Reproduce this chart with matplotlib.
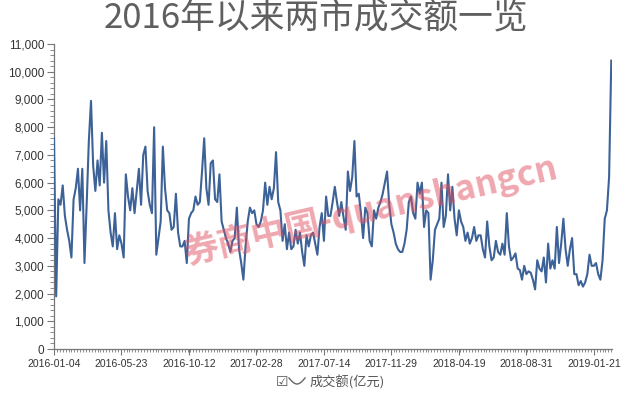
import matplotlib
matplotlib.use("Agg")
import matplotlib.pyplot as plt
import numpy as np
from matplotlib.ticker import FuncFormatter, MultipleLocator, FixedLocator
from matplotlib.lines import Line2D

turnover_2016 = [7600, 1900, 5400, 5200, 5900, 4800, 4300, 3900, 3300, 5400,
                 5800, 6500, 5000, 6500, 3100, 5200, 7500, 8950, 6600, 5700,
                 6800, 5900, 7800, 6000, 7500, 5000, 4200, 3700, 4900, 3600,
                 4100, 3800, 3300, 6300, 5500, 5000, 5800, 4900, 5700, 6500,
                 5200, 7000, 7300, 5700, 5200, 4900, 8000, 3400, 4000, 4600,
                 7300, 5800, 5000, 4900, 4300, 4400, 5600, 4200, 3700, 3700,
                 3900, 3100, 4700, 4900, 5000, 5500, 5200, 5300, 6400, 7600,
                 5800, 5200, 6700, 6800, 5400, 5300, 6300, 4600, 4300, 4000,
                 3800, 3500]
turnover_2017 = [3900, 4000, 5100, 3600, 3100, 2500, 3700, 4600, 5100, 4900,
                 5000, 4500, 4400, 4600, 5000, 6000, 5200, 5850, 5400, 5800,
                 7100, 5300, 5000, 3900, 4500, 3600, 4200, 3600, 3700, 4300,
                 3800, 4200, 3500, 3000, 4100, 3700, 4100, 4200, 3800, 3400,
                 4400, 4900, 3900, 5500, 4800, 4800, 5300, 5850, 5300, 4800,
                 5300, 4750, 4300, 6400, 5700, 6200, 7500, 5500, 5600, 4900,
                 4000, 5100, 4900, 3900, 3700, 5000, 4700, 5100, 5300, 5600,
                 6000, 6400, 5200, 4500, 4200, 3800, 3600, 3500, 3500, 3800,
                 4300]
turnover_2018 = [5300, 5500, 4900, 4700, 6000, 5600, 6000, 4400, 5000, 4900,
                 2500, 3200, 4300, 4500, 4700, 6000, 4400, 4800, 6300, 5000,
                 5850, 4700, 4100, 5000, 4600, 4400, 3900, 4200, 3800, 4000,
                 4400, 3900, 4100, 4100, 3600, 3300, 4600, 3700, 3200, 3300,
                 3900, 3500, 3400, 3800, 3400, 4900, 3700, 3200, 3300, 3450,
                 2900, 2850, 2500, 3000, 2700, 2800, 2750, 2500, 2150, 3200,
                 2900, 2800, 3300, 2400, 3800, 2900, 3200, 2900, 4400, 3100,
                 3800, 4700, 3600, 3000, 3600, 4000, 2700, 2700, 2300, 2450,
                 2250]
turnover_2019 = [2400, 2700, 3400, 3000, 3000, 3100, 2700, 2500, 3200, 4700,
                 5000, 6200, 10400]

turnover = turnover_2016 + turnover_2017 + turnover_2018 + turnover_2019
sample_step = 3  # trading days between samples
label_step = 93  # trading days between date labels
tick_labels = ["2016-01-04", "2016-05-23", "2016-10-12", "2017-02-28",
               "2017-07-14", "2017-11-29", "2018-04-19", "2018-08-31",
               "2019-01-21"]

title = "2016年以来两市成交额一览"
series_name = "成交额(亿元)"
watermark = "券商中国-quanshangcn"

cjk = ["Noto Sans CJK SC", "DejaVu Sans"]
plt.rcParams["font.family"] = ["Liberation Sans", "DejaVu Sans"]

x = np.arange(len(turnover)) * sample_step
y = np.array(turnover)

fig = plt.figure(figsize=(6.3, 3.95), dpi=100)
ax = fig.add_axes([54 / 630, 46 / 395, 558 / 630, 305 / 395])
ax.plot(x, y, color="#3d6298", lw=1.5, zorder=3)

ax.set_xlim(0, x[-1] + 1)
ax.set_ylim(0, 11000)
for s in ["top", "right"]:
    ax.spines[s].set_visible(False)
for s in ["left", "bottom"]:
    ax.spines[s].set_color("#777777")
    ax.spines[s].set_linewidth(0.9)

ax.yaxis.set_major_locator(MultipleLocator(1000))
ax.yaxis.set_minor_locator(MultipleLocator(200))
ax.yaxis.set_major_formatter(FuncFormatter(lambda v, p: f"{v:,.0f}"))
ax.xaxis.set_major_locator(FixedLocator(np.arange(len(tick_labels)) * label_step))
ax.set_xticklabels(tick_labels)
ax.xaxis.set_minor_locator(MultipleLocator(4))

ax.tick_params(axis="y", which="major", length=5, color="#777777",
               labelsize=8.5, labelcolor="#333333", pad=2)
ax.tick_params(axis="y", which="minor", length=3, color="#777777")
ax.tick_params(axis="x", which="major", length=4, color="#777777",
               labelsize=7.5, labelcolor="#333333", pad=3)
ax.tick_params(axis="x", which="minor", length=2.5, color="#777777")

fig.text(0.502, 1 - 19 / 395, title, ha="center", va="center", fontsize=25,
         color="#5f5f5f", family=cjk, weight="medium")

ax.text(0.566, 0.456, watermark, transform=ax.transAxes, ha="center",
        va="center", rotation=13, fontsize=25, color="#e0505f", alpha=0.5,
        weight="bold", family=cjk, zorder=5)

# legend
fig.text(276 / 630, 1 - 382 / 395, "☑", ha="left", va="center", fontsize=10,
         color="#555555", family=["DejaVu Sans"])
t = np.linspace(0, 1, 30)
lx = (289 + 16 * t) / 630
ly = 1 - (378 + 6 * np.sin(np.pi * t)) / 395
fig.add_artist(Line2D(lx, ly, color="#666666", lw=1.0, transform=fig.transFigure))
fig.text(310 / 630, 1 - 382 / 395, series_name, ha="left", va="center",
         fontsize=9.5, color="#555555", family=cjk)

fig.savefig("out.png", dpi=100)
